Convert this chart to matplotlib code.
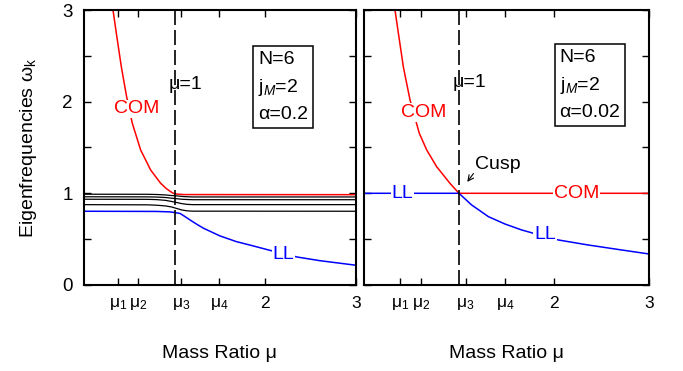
import matplotlib
matplotlib.use("Agg")
import matplotlib.pyplot as plt

plt.rcParams['font.family'] = ['Liberation Sans', 'DejaVu Sans']
plt.rcParams['mathtext.fontset'] = 'custom'
plt.rcParams['mathtext.rm'] = 'Liberation Sans'
plt.rcParams['mathtext.it'] = 'Liberation Sans:italic'

# x tick positions / labels
xtick_pos = [0.38, 0.60, 1.07, 1.49, 2.0, 3.0]
xtick_lab = [r'$\mathregular{μ_1}$', r'$\mathregular{μ_2}$', r'$\mathregular{μ_3}$',
             r'$\mathregular{μ_4}$', '2', '3']
ytick_pos = [0, 0.5, 1, 1.5, 2, 2.5, 3]
ytick_lab = ['0', '', '1', '', '2', '', '3']

# ---- left panel, alpha = 0.2
a_com_mu = [0.31, 0.32, 0.357, 0.412, 0.47, 0.533, 0.625, 0.735, 0.846, 0.91, 0.956, 0.985, 1.01, 1.1, 3.0]
a_com_w = [3.1, 3.0, 2.745, 2.38, 2.055, 1.764, 1.473, 1.255, 1.109, 1.05, 1.018, 1.0, 0.993, 0.986, 0.985]
a_ll_mu = [0.0, 0.8, 0.95, 1.0, 1.06, 1.1, 1.17, 1.24, 1.32, 1.5, 1.68, 1.87, 2.05, 2.35, 2.6, 3.0]
a_ll_w = [0.804, 0.802, 0.797, 0.79, 0.78, 0.755, 0.709, 0.665, 0.618, 0.535, 0.473, 0.425, 0.378, 0.305, 0.265, 0.215]
a_blk_mu = [0.0, 0.7, 0.8, 0.9, 0.97, 1.02, 1.08, 1.14, 1.2, 3.0]
a_blk1 = [0.990, 0.989, 0.987, 0.982, 0.975, 0.972, 0.966, 0.962, 0.960, 0.960]
a_blk2 = [0.962, 0.961, 0.959, 0.954, 0.946, 0.941, 0.935, 0.932, 0.930, 0.930]
a_blk3 = [0.935, 0.934, 0.931, 0.923, 0.910, 0.900, 0.887, 0.879, 0.876, 0.876]
a_blk4 = [0.876, 0.874, 0.870, 0.862, 0.850, 0.835, 0.818, 0.808, 0.805, 0.804]

# ---- right panel, alpha = 0.02
b_com_mu = [0.31, 0.326, 0.362, 0.414, 0.484, 0.582, 0.66, 0.765, 0.905, 1.0, 3.0]
b_com_w = [3.15, 3.0, 2.745, 2.38, 2.02, 1.655, 1.473, 1.29, 1.109, 1.0, 1.0]
b_ll_mu = [0.0, 1.0, 1.133, 1.31, 1.484, 1.66, 1.78, 2.045, 2.36, 2.71, 3.0]
b_ll_w = [1.0, 1.0, 0.873, 0.745, 0.665, 0.60, 0.565, 0.491, 0.436, 0.382, 0.338]

RED = '#ff0000'
BLUE = '#0000ff'
FS = 14

fig = plt.figure(figsize=(6.83, 3.71), dpi=100)
ax1 = fig.add_axes([0.123, 0.232, 0.398, 0.741])
ax2 = fig.add_axes([0.533, 0.232, 0.417, 0.741])


def style(ax, ylab):
    ax.set_xlim(0, 3)
    ax.set_ylim(0, 3)
    ax.set_xticks(xtick_pos)
    ax.set_xticklabels(xtick_lab)
    ax.set_yticks(ytick_pos)
    ax.set_yticklabels(ytick_lab if ylab else [''] * len(ytick_pos))
    ax.tick_params(direction='in', top=True, right=True, length=5, width=1, pad=8)
    ax.tick_params(axis='x', labelsize=12.5)
    ax.tick_params(axis='y', labelsize=13.5)
    for sp in ax.spines.values():
        sp.set_linewidth(1.5)
    ax.axvline(1.0, color='k', lw=1.2, ls=(0, (9, 3)), zorder=5)
    ax.set_xlabel('Mass Ratio μ', fontsize=FS, labelpad=24)


def label(ax, x, y, s, c):
    ax.text(x, y, s, color=c, fontsize=FS, ha='center', va='center', zorder=6,
            bbox=dict(facecolor='white', edgecolor='none', pad=0.5))


def infobox(ax, x, y, a):
    ax.text(x, y, 'N=6\n' + r'$\mathregular{j}_{\mathit{M}}$' + '=2\nα=' + a,
            fontsize=FS, ha='left', va='center', linespacing=1.6, zorder=7,
            bbox=dict(facecolor='white', edgecolor='k', lw=1.1, boxstyle='square,pad=0.25'))


# left
for yy in [a_blk1, a_blk2, a_blk3, a_blk4]:
    ax1.plot(a_blk_mu, yy, color='k', lw=0.9)
ax1.plot(a_com_mu, a_com_w, color=RED, lw=1.1)
ax1.plot(a_ll_mu, a_ll_w, color=BLUE, lw=1.1)
style(ax1, True)
ax1.set_ylabel(r'Eigenfrequencies $\mathregular{ω_k}$', fontsize=FS, labelpad=17)
label(ax1, 0.585, 1.92, 'COM', RED)
label(ax1, 2.2, 0.33, 'LL', BLUE)
ax1.text(0.93, 2.19, 'μ=1', fontsize=FS, ha='left', va='center', zorder=6)
infobox(ax1, 1.92, 2.16, '0.2')

# right
ax2.plot(b_com_mu, b_com_w, color=RED, lw=1.1)
ax2.plot(b_ll_mu, b_ll_w, color=BLUE, lw=1.1)
style(ax2, False)
label(ax2, 0.625, 1.88, 'COM', RED)
label(ax2, 2.24, 1.0, 'COM', RED)
label(ax2, 0.405, 1.0, 'LL', BLUE)
label(ax2, 1.905, 0.545, 'LL', BLUE)
ax2.text(0.93, 2.21, 'μ=1', fontsize=FS, ha='left', va='center', zorder=6)
ax2.text(1.17, 1.31, 'Cusp', fontsize=FS, ha='left', va='center')
ax2.annotate('', xy=(1.07, 1.1), xytext=(1.17, 1.24),
             arrowprops=dict(arrowstyle='->', color='k', lw=0.8))
infobox(ax2, 2.06, 2.18, '0.02')

fig.savefig('out.png', dpi=100)
